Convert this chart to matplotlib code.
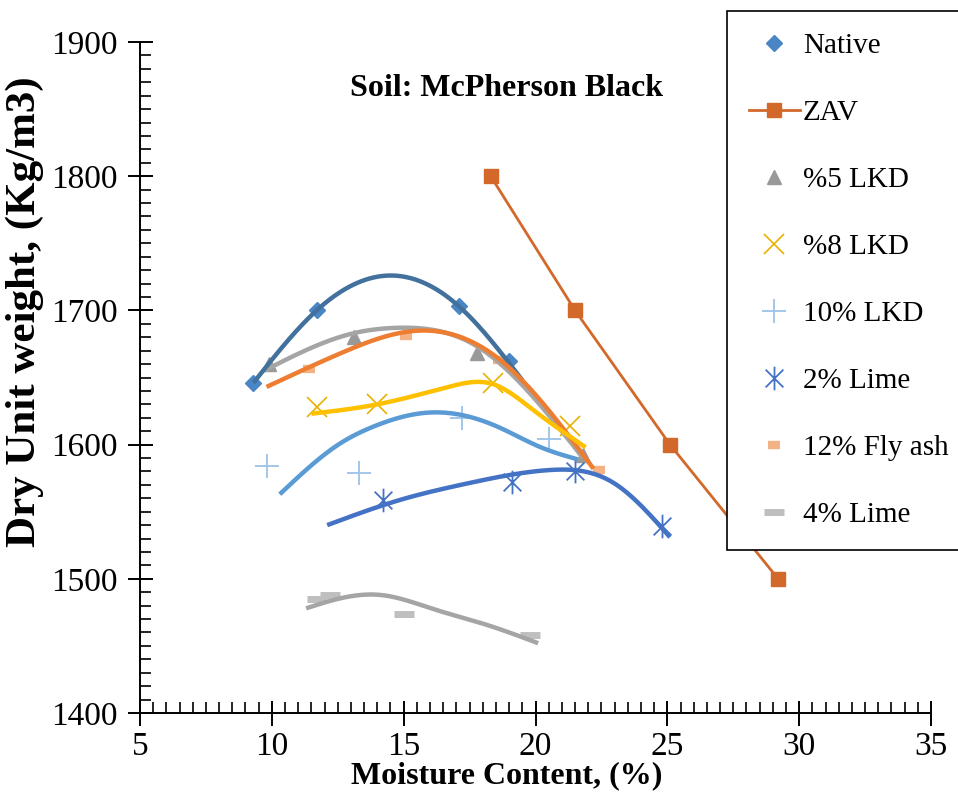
import numpy as np
import matplotlib
matplotlib.use("Agg")
import matplotlib.pyplot as plt
from matplotlib.ticker import MultipleLocator
from matplotlib.path import Path

plt.rcParams['font.family'] = ['Liberation Serif', 'DejaVu Serif']

# measured points: moisture content (%) and dry unit weight (kg/m3)
native_x = [9.3, 11.7, 17.1, 19.0]
native_y = [1646, 1700, 1703, 1662]
zav_x = [18.3, 21.5, 25.1, 29.2]
zav_y = [1800, 1700, 1600, 1500]
lkd5_x = [9.9, 13.1, 17.8, 21.8]
lkd5_y = [1660, 1680, 1668, 1592]
lkd8_x = [11.7, 14.0, 18.4, 21.3]
lkd8_y = [1628, 1630, 1646, 1614]
lkd10_x = [9.8, 13.3, 17.2, 20.5]
lkd10_y = [1584, 1579, 1620, 1604]
lime2_x = [14.2, 19.1, 21.5, 24.8]
lime2_y = [1559, 1572, 1580, 1539]
flyash_x = [11.4, 15.1, 18.6, 22.4]
flyash_y = [1656, 1681, 1663, 1581]
lime4_x = [11.7, 12.2, 15.0, 19.8]
lime4_y = [1485, 1488, 1474, 1458]

# trend curves (points along each fitted curve)
native_fit_x = [9.3, 11.7, 14.5, 17.1, 19.5]
native_fit_y = [1646, 1700, 1726, 1703, 1648]
lkd5_fit_x = [9.7, 13.1, 14.7, 17.8, 21.8]
lkd5_fit_y = [1655, 1683, 1687, 1673, 1590]
lkd8_fit_x = [11.5, 14.0, 16.7, 18.4, 19.9, 21.9]
lkd8_fit_y = [1623, 1630, 1643, 1645, 1626, 1598]
lkd10_fit_x = [10.3, 12.6, 13.8, 16.1, 18.6, 20.2, 21.6]
lkd10_fit_y = [1563, 1601, 1613, 1624, 1613, 1598, 1589]
lime2_fit_x = [12.1, 14.9, 17.4, 20.5, 23.0, 25.1]
lime2_fit_y = [1540, 1559, 1571, 1581, 1571, 1531]
flyash_fit_x = [9.8, 12.6, 15.7, 18.6, 22.2]
flyash_fit_y = [1643, 1668, 1685, 1664, 1582]
lime4_fit_x = [11.3, 12.5, 14.1, 16.2, 18.1, 20.1]
lime4_fit_y = [1478, 1485, 1488, 1477, 1466, 1452]


def smooth(xs, ys, n=200):
    # natural cubic spline through the curve points
    x = np.asarray(xs, float)
    y = np.asarray(ys, float)
    h = np.diff(x)
    m = len(x)
    A = np.zeros((m, m))
    r = np.zeros(m)
    A[0, 0] = A[-1, -1] = 1
    for i in range(1, m - 1):
        A[i, i - 1] = h[i - 1]
        A[i, i] = 2 * (h[i - 1] + h[i])
        A[i, i + 1] = h[i]
        r[i] = 3 * ((y[i + 1] - y[i]) / h[i] - (y[i] - y[i - 1]) / h[i - 1])
    c = np.linalg.solve(A, r)
    b = (y[1:] - y[:-1]) / h - h * (2 * c[:-1] + c[1:]) / 3
    d = (c[1:] - c[:-1]) / (3 * h)
    xx = np.linspace(x[0], x[-1], n)
    k = np.clip(np.searchsorted(x, xx) - 1, 0, m - 2)
    t = xx - x[k]
    return xx, y[k] + b[k] * t + c[k] * t ** 2 + d[k] * t ** 3


# asterisk marker: vertical bar plus an X
asterisk = Path([(0, -1), (0, 1), (-0.75, -0.75), (0.75, 0.75), (-0.75, 0.75), (0.75, -0.75)],
                [Path.MOVETO, Path.LINETO, Path.MOVETO, Path.LINETO, Path.MOVETO, Path.LINETO])

fig = plt.figure(figsize=(9.58, 7.95), dpi=100)
ax = fig.add_axes([140 / 958, 1 - 713 / 795, 791 / 958, 671 / 795])

ax.plot(native_x, native_y, 'D', color='#4a86c5', ms=8, label='Native', zorder=3)
ax.plot(zav_x, zav_y, '-s', color='#d2692b', lw=2, ms=10, label='ZAV', zorder=3)
ax.plot(lkd5_x, lkd5_y, '^', color='#999999', ms=10, label='%5 LKD', zorder=3)
ax.plot(lkd8_x, lkd8_y, 'x', color='#e8b000', ms=14, mew=1.2, label='%8 LKD', zorder=3)
ax.plot(lkd10_x, lkd10_y, '+', color='#9dc3e6', ms=17, mew=1.3, label='10% LKD', zorder=3)
ax.plot(lime2_x, lime2_y, ls='none', marker=asterisk, color='#4472c4', ms=17, mew=1.3,
        label='2% Lime', zorder=3)
ax.plot(flyash_x, flyash_y, '_', color='#f4b183', ms=8, mew=6, label='12% Fly ash', zorder=3)
ax.plot(lime4_x, lime4_y, '_', color='#bfbfbf', ms=14, mew=5, label='4% Lime', zorder=3)

# trend lines
for fx, fy, col in [(lkd5_fit_x, lkd5_fit_y, '#a5a5a5'),
                    (native_fit_x, native_fit_y, '#41719c'),
                    (flyash_fit_x, flyash_fit_y, '#ed7d31'),
                    (lkd8_fit_x, lkd8_fit_y, '#ffc000'),
                    (lkd10_fit_x, lkd10_fit_y, '#5b9bd5'),
                    (lime2_fit_x, lime2_fit_y, '#4472c4'),
                    (lime4_fit_x, lime4_fit_y, '#a5a5a5')]:
    sx, sy = smooth(fx, fy)
    ax.plot(sx, sy, color=col, lw=3.2, solid_capstyle='butt', zorder=4)

ax.set_xlim(5, 35)
ax.set_ylim(1400, 1900)
ax.xaxis.set_major_locator(MultipleLocator(5))
ax.xaxis.set_minor_locator(MultipleLocator(0.5))
ax.yaxis.set_major_locator(MultipleLocator(100))
ax.yaxis.set_minor_locator(MultipleLocator(10))
ax.tick_params(which='major', direction='inout', length=18, width=1.4, labelsize=24, pad=4)
ax.tick_params(axis='y', which='major', pad=7)
ax.tick_params(which='minor', direction='in', length=8, width=1.2)
for s in ['top', 'right']:
    ax.spines[s].set_visible(False)
for s in ['left', 'bottom']:
    ax.spines[s].set_linewidth(1.4)

ax.set_xlabel('Moisture Content, (%)', fontsize=23, fontweight='bold')
ax.xaxis.set_label_coords(0.463, -0.072)
ax.set_ylabel('Dry Unit weight, (Kg/m3)', fontsize=31, fontweight='bold')
ax.yaxis.set_label_coords(-0.121, 0.598)

ax.text(0.463, 0.931, 'Soil: McPherson Black', transform=ax.transAxes,
        ha='center', va='center', fontsize=23, fontweight='bold')

leg = ax.legend(loc='upper left', bbox_to_anchor=(727 / 958, 1 - 11 / 795, 0.3, 0),
                bbox_transform=fig.transFigure, mode='expand', fontsize=21,
                frameon=True, fancybox=False, edgecolor='black', framealpha=1,
                borderpad=0.75, labelspacing=1.39, handlelength=1.75,
                handletextpad=0.1, borderaxespad=0)
leg.get_frame().set_linewidth(1.2)

fig.savefig('out.png', dpi=100)
